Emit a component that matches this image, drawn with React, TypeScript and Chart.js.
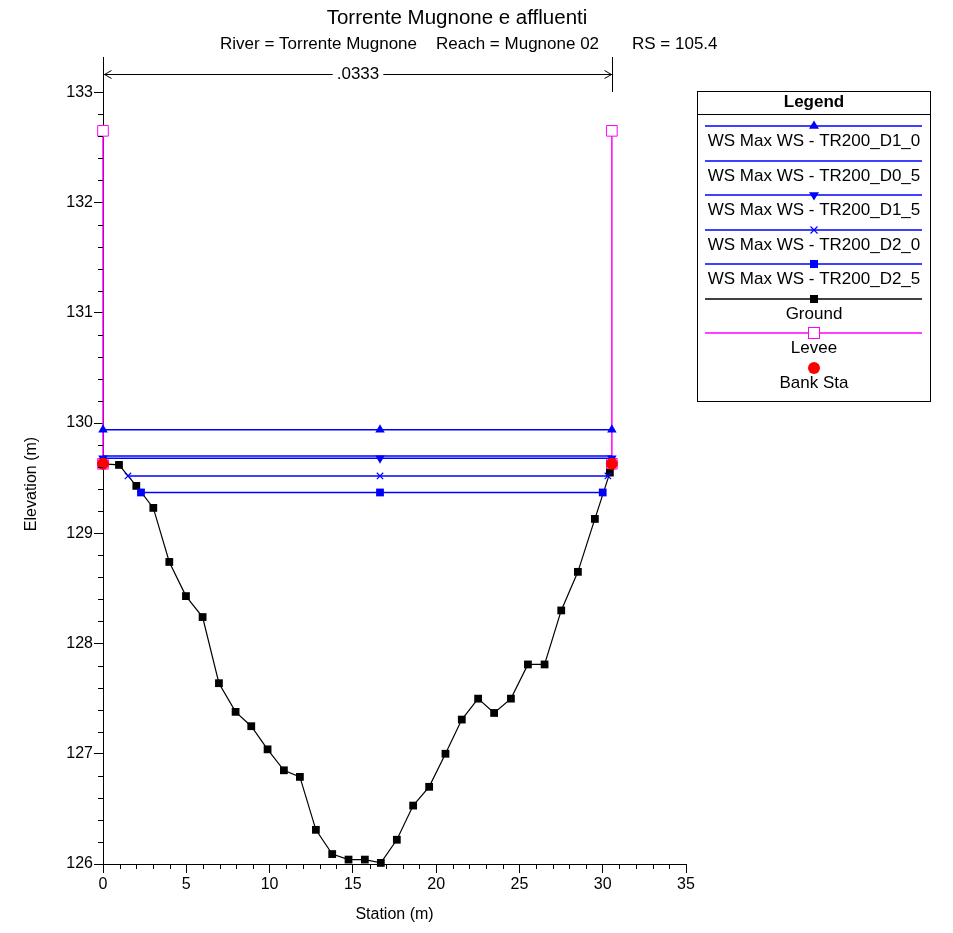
import { useEffect, useRef } from "react";
import { Chart, registerables } from "chart.js";

Chart.register(...registerables);

const FONT = '"Liberation Sans", Arial, Helvetica, sans-serif';

const TITLE = "Torrente Mugnone e affluenti";
const SUBTITLE_PARTS = ["River = Torrente Mugnone", "Reach = Mugnone 02", "RS = 105.4"];
const X_TITLE = "Station (m)";
const Y_TITLE = "Elevation (m)";
const MANNING_N = ".0333";
const LEGEND_TITLE = "Legend";

const xTicks = [0, 5, 10, 15, 20, 25, 30, 35];
const yTicks = [126, 127, 128, 129, 130, 131, 132, 133];

const groundStation = [0, 0.96, 2.0, 3.02, 3.98, 4.98, 5.98, 6.96, 7.96, 8.9, 9.88, 10.86, 11.82, 12.78, 13.76, 14.74, 15.72, 16.68, 17.64, 18.62, 19.58, 20.56, 21.54, 22.52, 23.48, 24.49, 25.51, 26.51, 27.51, 28.51, 29.53, 30.43, 30.55];
const groundElev = [129.63, 129.62, 129.43, 129.23, 128.74, 128.43, 128.24, 127.64, 127.38, 127.25, 127.04, 126.85, 126.79, 126.31, 126.09, 126.04, 126.04, 126.01, 126.22, 126.53, 126.7, 127.0, 127.31, 127.5, 127.37, 127.5, 127.81, 127.81, 128.3, 128.65, 129.13, 129.55, 129.63];

const wsNames = ["WS Max WS - TR200_D1_0", "WS Max WS - TR200_D0_5", "WS Max WS - TR200_D1_5", "WS Max WS - TR200_D2_0", "WS Max WS - TR200_D2_5"];
const wsElev = [129.94, 129.7, 129.68, 129.52, 129.37];
const wsLeft = [0, 0, 0, 1.5, 2.28];
const wsRight = [30.55, 30.55, 30.55, 30.31, 30.0];
const wsMid = [16.63, 16.63, 16.63, 16.63, 16.63];
const wsMarker = ["triangle", "none", "triangleDown", "crossRot", "rect"];

const leveeStation = [0, 30.55];
const leveeTop = [132.65, 132.65];
const leveeBase = [129.63, 129.63];

const bankStation = [0, 30.55];
const bankElev = [129.63, 129.63];

const BLUE = "#0000ff";
const MAGENTA = "#ff00ff";
const RED = "#ff0000";

function chartPointStyle(m: string) {
  if (m === "triangleDown") return "triangle";
  return m;
}

function drawMarker(ctx: CanvasRenderingContext2D, m: string, x: number, y: number, color: string) {
  ctx.save();
  ctx.fillStyle = color;
  ctx.strokeStyle = color;
  ctx.lineWidth = 1;
  if (m === "triangle") {
    ctx.beginPath();
    ctx.moveTo(x, y - 5.5);
    ctx.lineTo(x + 5, y + 2.8);
    ctx.lineTo(x - 5, y + 2.8);
    ctx.closePath();
    ctx.fill();
  } else if (m === "triangleDown") {
    ctx.beginPath();
    ctx.moveTo(x, y + 5.5);
    ctx.lineTo(x + 5, y - 2.8);
    ctx.lineTo(x - 5, y - 2.8);
    ctx.closePath();
    ctx.fill();
  } else if (m === "crossRot") {
    ctx.lineWidth = 1.2;
    ctx.beginPath();
    ctx.moveTo(x - 3.5, y - 3.5);
    ctx.lineTo(x + 3.5, y + 3.5);
    ctx.moveTo(x + 3.5, y - 3.5);
    ctx.lineTo(x - 3.5, y + 3.5);
    ctx.stroke();
  } else if (m === "rect") {
    ctx.fillRect(x - 4, y - 4, 8, 8);
  } else if (m === "hollow") {
    ctx.fillStyle = "#fff";
    ctx.fillRect(x - 5.5, y - 5.5, 11, 11);
    ctx.strokeRect(x - 5.5, y - 5.5, 11, 11);
  } else if (m === "circle") {
    ctx.beginPath();
    ctx.arc(x, y, 6, 0, Math.PI * 2);
    ctx.fill();
  }
  ctx.restore();
}

const decorPlugin = {
  id: "decor",
  afterDraw(chart: any) {
    const ctx: CanvasRenderingContext2D = chart.ctx;
    const xs = chart.scales.x;
    const ys = chart.scales.y;
    const ca = chart.chartArea;
    ctx.save();

    // minor ticks
    ctx.strokeStyle = "#000";
    ctx.lineWidth = 1;
    ctx.beginPath();
    for (let i = 0; i <= 35; i++) {
      if (i % 5 === 0) continue;
      const px = Math.round(xs.getPixelForValue(i)) + 0.5;
      ctx.moveTo(px, ca.bottom);
      ctx.lineTo(px, ca.bottom + 5);
    }
    for (let k = 0; k <= 35; k++) {
      if (k % 5 === 0) continue;
      const py = Math.round(ys.getPixelForValue(126 + k * 0.2)) + 0.5;
      ctx.moveTo(ca.left, py);
      ctx.lineTo(ca.left - 5, py);
    }
    ctx.stroke();

    // titles
    ctx.fillStyle = "#000";
    ctx.textBaseline = "middle";
    ctx.textAlign = "center";
    ctx.font = `20.5px ${FONT}`;
    ctx.fillText(TITLE, 457, 18);
    ctx.font = `17px ${FONT}`;
    ctx.textAlign = "left";
    ctx.fillText(SUBTITLE_PARTS[0], 220, 44);
    ctx.fillText(SUBTITLE_PARTS[1], 436, 44);
    ctx.fillText(SUBTITLE_PARTS[2], 632, 44);

    // axis titles
    ctx.textAlign = "center";
    ctx.font = `16px ${FONT}`;
    ctx.fillText(X_TITLE, (ca.left + ca.right) / 2, 915);
    ctx.save();
    ctx.translate(32, 484);
    ctx.rotate(-Math.PI / 2);
    ctx.fillText(Y_TITLE, 0, 0);
    ctx.restore();

    // Manning's n annotation
    const x0 = Math.round(xs.getPixelForValue(leveeStation[0])) + 0.5;
    const x1 = Math.round(xs.getPixelForValue(leveeStation[1])) + 0.5;
    const ay = 74.5;
    ctx.font = `17px ${FONT}`;
    const tw = ctx.measureText(MANNING_N).width;
    const mid = (x0 + x1) / 2;
    ctx.strokeStyle = "#000";
    ctx.lineWidth = 1;
    ctx.beginPath();
    ctx.moveTo(x0, ay);
    ctx.lineTo(mid - tw / 2 - 4, ay);
    ctx.moveTo(mid + tw / 2 + 4, ay);
    ctx.lineTo(x1, ay);
    ctx.moveTo(x0 + 8, ay - 4);
    ctx.lineTo(x0 + 1, ay);
    ctx.lineTo(x0 + 8, ay + 4);
    ctx.moveTo(x1 - 8, ay - 4);
    ctx.lineTo(x1 - 1, ay);
    ctx.lineTo(x1 - 8, ay + 4);
    ctx.moveTo(x1, ca.top);
    ctx.lineTo(x1, Math.round(ys.getPixelForValue(133)));
    ctx.stroke();
    ctx.fillText(MANNING_N, mid, ay);

    // legend box
    const L = 697.5, T = 91.5, W = 233, H = 310;
    ctx.strokeStyle = "#000";
    ctx.strokeRect(L, T, W, H);
    ctx.beginPath();
    ctx.moveTo(L, 114.5);
    ctx.lineTo(L + W, 114.5);
    ctx.stroke();
    const cx = L + W / 2;
    ctx.font = `bold 17px ${FONT}`;
    ctx.fillText(LEGEND_TITLE, cx, 102);
    ctx.font = `17px ${FONT}`;
    const lx0 = 705, lx1 = 922;
    const rowLine = [126, 161, 195, 230, 264, 299, 333];
    const rowText = [141.5, 176, 210.5, 245, 279.5, 314, 348.5];
    const labels = [...wsNames, "Ground", "Levee"];
    const colors = [BLUE, BLUE, BLUE, BLUE, BLUE, "#000", MAGENTA];
    const markers = [...wsMarker, "rect", "hollow"];
    for (let i = 0; i < labels.length; i++) {
      const ly = rowLine[i];
      ctx.strokeStyle = colors[i];
      ctx.lineWidth = 1.5;
      ctx.beginPath();
      ctx.moveTo(lx0, ly);
      ctx.lineTo(lx1, ly);
      ctx.stroke();
      drawMarker(ctx, markers[i], cx, ly, colors[i]);
      ctx.fillStyle = "#000";
      ctx.fillText(labels[i], cx, rowText[i]);
    }
    drawMarker(ctx, "circle", cx, 368, RED);
    ctx.fillStyle = "#000";
    ctx.fillText("Bank Sta", cx, 383);

    ctx.restore();
  },
};

export default function App() {
  const ref = useRef<HTMLCanvasElement | null>(null);

  useEffect(() => {
    document.body.style.margin = "0";
    const canvas = ref.current;
    if (!canvas) return;

    const wsDatasets = wsNames.map((name, i) => {
      const m = wsMarker[i];
      return {
        label: name,
        data: [
          { x: wsLeft[i], y: wsElev[i] },
          { x: wsMid[i], y: wsElev[i] },
          { x: wsRight[i], y: wsElev[i] },
        ],
        showLine: true,
        clip: false,
        borderColor: BLUE,
        backgroundColor: BLUE,
        borderWidth: 1.5,
        pointStyle: m === "none" ? false : chartPointStyle(m),
        pointRotation: m === "triangleDown" ? 180 : 0,
        pointRadius: m === "none" ? 0 : m === "rect" ? 5.5 : m === "crossRot" ? 4.5 : 5.5,
        pointBorderWidth: m === "crossRot" ? 1.2 : 0,
        pointBorderColor: BLUE,
        pointBackgroundColor: BLUE,
        order: 2 + i,
      };
    });

    const leveeData: any[] = [];
    leveeStation.forEach((s, i) => {
      if (i > 0) leveeData.push({ x: (leveeStation[i - 1] + s) / 2, y: null });
      leveeData.push({ x: s, y: leveeTop[i] });
      leveeData.push({ x: s, y: leveeBase[i] });
    });

    const chart = new Chart(canvas, {
      type: "scatter",
      data: {
        datasets: [
          {
            label: "Bank Sta",
            data: bankStation.map((s, i) => ({ x: s, y: bankElev[i] })),
            showLine: false,
            clip: false,
            pointStyle: "circle",
            pointRadius: 6,
            pointBackgroundColor: RED,
            pointBorderColor: RED,
            pointBorderWidth: 0,
            order: 0,
          },
          ...wsDatasets,
          {
            label: "Ground",
            data: groundStation.map((s, i) => ({ x: s, y: groundElev[i] })),
            showLine: true,
            clip: false,
            borderColor: "#000",
            borderWidth: 1.2,
            pointStyle: "rect",
            pointRadius: 5.5,
            pointBackgroundColor: "#000",
            pointBorderColor: "#000",
            pointBorderWidth: 0,
            order: 10,
          },
          {
            label: "Levee",
            data: leveeData,
            showLine: true,
            spanGaps: false,
            clip: false,
            borderColor: MAGENTA,
            borderWidth: 1.5,
            pointStyle: "rect",
            pointRadius: 7.5,
            pointBackgroundColor: "#ffffff",
            pointBorderColor: MAGENTA,
            pointBorderWidth: 1,
            order: 11,
          },
        ] as any,
      },
      options: {
        animation: false,
        responsive: false,
        events: [],
        layout: { padding: { left: 0, top: 57, right: 267, bottom: 0 } },
        plugins: {
          legend: { display: false },
          tooltip: { enabled: false },
          title: { display: false },
        },
        scales: {
          x: {
            type: "linear",
            position: "bottom",
            min: 0,
            max: 35,
            afterFit: (s: any) => {
              s.height = 69;
            },
            afterBuildTicks: (s: any) => {
              s.ticks = xTicks.map((v) => ({ value: v }));
            },
            ticks: {
              font: { family: FONT, size: 16 },
              color: "#000",
              padding: 2,
              maxRotation: 0,
              autoSkip: false,
              callback: (v: any) => String(v),
            },
            grid: { display: true, drawOnChartArea: false, drawTicks: true, tickLength: 9, color: "#000", lineWidth: 1 },
            border: { display: true, color: "#000", width: 1 },
          },
          y: {
            type: "linear",
            position: "left",
            min: 126,
            max: 133.32,
            afterFit: (s: any) => {
              s.width = 103;
            },
            afterBuildTicks: (s: any) => {
              s.ticks = yTicks.map((v) => ({ value: v }));
            },
            ticks: {
              font: { family: FONT, size: 16 },
              color: "#000",
              padding: 1,
              autoSkip: false,
              callback: (v: any) => String(v),
            },
            grid: { display: true, drawOnChartArea: false, drawTicks: true, tickLength: 9, color: "#000", lineWidth: 1 },
            border: { display: true, color: "#000", width: 1 },
          },
        },
      } as any,
      plugins: [decorPlugin],
    });

    return () => chart.destroy();
  }, []);

  return (
    <div style={{ width: 953, height: 933, background: "#fff" }}>
      <canvas ref={ref} width={953} height={933} style={{ display: "block" }} />
    </div>
  );
}
